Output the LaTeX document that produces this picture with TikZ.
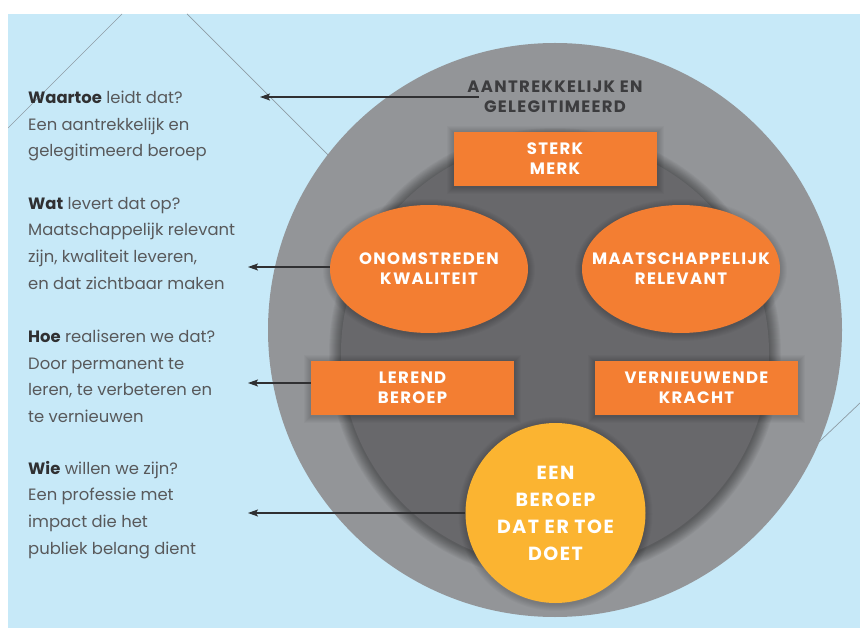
\documentclass[tikz,border=0pt]{standalone}
\usepackage{fontspec}
\setmainfont{Poppins}
\newfontfamily\capsfont{Poppins}[LetterSpace=8]
\usetikzlibrary{shapes.geometric,arrows.meta}

\definecolor{skyblue}{HTML}{C7E9F8}
\definecolor{ringgrey}{HTML}{939598}
\definecolor{coregrey}{HTML}{68686B}
\definecolor{orng}{HTML}{F37E32}
\definecolor{sun}{HTML}{FBB431}
\definecolor{txtgrey}{HTML}{58595B}
\definecolor{txtdark}{HTML}{303032}
\definecolor{ringtxt}{HTML}{3C3C3E}
\definecolor{thinline}{HTML}{8E9CA5}

\newcommand\sidefont{\fontsize{16.4}{26.6}\selectfont}
\newcommand\lblfont{\capsfont\fontsize{16.5}{20}\selectfont\bfseries}
\newcommand\sunfont{\capsfont\fontsize{19}{27}\selectfont\bfseries}

\begin{document}
\begin{tikzpicture}[x=1pt,y=-1pt,
  panel/.style={rectangle, fill=orng, minimum width=203pt, minimum height=54pt,
      inner sep=0pt, align=center, text=white, font=\lblfont},
  oval/.style={ellipse, fill=orng, minimum width=198pt, minimum height=128pt,
      inner sep=0pt},
  ovaltext/.style={inner sep=0pt, align=center, text=white, font=\lblfont},
  question/.style={anchor=north west, align=left, inner sep=0pt,
      font=\sidefont, text=txtgrey},
  haze/.style={fill=black, fill opacity=0.035},
  faint/.style={fill=black, fill opacity=0.025},
  arr/.style={draw=txtdark, line width=1.2pt,
      -{Stealth[length=10pt,width=7pt,inset=2pt]}}]

\useasboundingbox (0,0) rectangle (860,628);

% light blue backdrop
\fill[skyblue] (8,14) rectangle (860,628);

% thin diagonal guide lines behind the rings
\begin{scope}
  \clip (8,14) rectangle (860,628);
  \draw[thinline, line width=0.7pt] (122,14) -- (8,128);
  \draw[thinline, line width=0.7pt] (187,14) -- (420,247);
  \draw[thinline, line width=0.7pt] (860,403) -- (760,498);
\end{scope}

% outer ring
\fill[ringgrey] (555,330) circle[radius=287];

% soft shadow around the core
\begin{scope}
  \clip (555,330) circle[radius=287];
  \foreach \r in {1,...,12}
    \fill[haze] (555,354) circle[radius=214+\r];
\end{scope}

% inner core
\node[circle, fill=coregrey, minimum size=428pt, inner sep=0pt] (core) at (555,353) {};

% soft shadows under the building blocks
\foreach \r in {1,...,7} {
  \fill[faint] (555,160) +(-101.5-\r,-27-\r) rectangle +(101.5+\r,27+\r);
  \fill[faint] (412.5,389) +(-101.5-\r,-27-\r) rectangle +(101.5+\r,27+\r);
  \fill[faint] (696.5,389) +(-101.5-\r,-27-\r) rectangle +(101.5+\r,27+\r);
  \fill[faint] (429,270) ellipse[x radius=99+\r, y radius=64+\r];
  \fill[faint] (681,270) ellipse[x radius=99+\r, y radius=64+\r];
  \fill[faint] (555.5,514) circle[radius=90+\r];
}

% ring caption
\node[align=center, inner sep=0pt, text=ringtxt, font=\lblfont] (ringcap)
  at (555,97) {AANTREKKELIJK EN\\GELEGITIMEERD};

% building blocks
\node[panel] (merk) at (555,159) {STERK\\MERK};
\node[oval] (kwal) at (429,269) {};
\node[ovaltext] (kwaltxt) at (kwal) {ONOMSTREDEN\\KWALITEIT};
\node[oval] (relev) at (681,269) {};
\node[ovaltext] (relevtxt) at (relev) {MAATSCHAPPELIJK\\RELEVANT};
\node[panel] (lerend) at (412.5,388) {LEREND\\BEROEP};
\node[panel] (vern) at (696.5,388) {VERNIEUWENDE\\KRACHT};
\node[circle, fill=sun, minimum size=180pt, inner sep=0pt, align=center,
      text=white, font=\sunfont] (doet) at (555.5,513)
  {EEN\\BEROEP\\DAT ER TOE\\DOET};

% questions on the left
\node[question] (q1) at (28,91)
  {\textbf{\color{txtdark}Waartoe} leidt dat?\\Een aantrekkelijk en\\gelegitimeerd beroep};
\node[question] (q2) at (28,197)
  {\textbf{\color{txtdark}Wat} levert dat op?\\Maatschappelijk relevant\\zijn, kwaliteit leveren,\\en dat zichtbaar maken};
\node[question] (q3) at (28,330)
  {\textbf{\color{txtdark}Hoe} realiseren we dat?\\Door permanent te\\leren, te verbeteren en\\te vernieuwen};
\node[question] (q4) at (28,461)
  {\textbf{\color{txtdark}Wie} willen we zijn?\\Een professie met\\impact die het\\publiek belang dient};

% arrow tips column
\coordinate (tipx) at (248,0);

% connectors
\draw[arr] ([xshift=12pt]ringcap.west) -- ([xshift=12pt]ringcap.west -| tipx);
\draw[arr] ([yshift=2pt]kwal.west) -- ([yshift=2pt]kwal.west -| tipx);
\draw[arr] ([yshift=5pt]lerend.west) -- ([yshift=5pt]lerend.west -| tipx);
\draw[arr] (doet.west) -- (doet.west -| tipx);
\end{tikzpicture}
\end{document}
